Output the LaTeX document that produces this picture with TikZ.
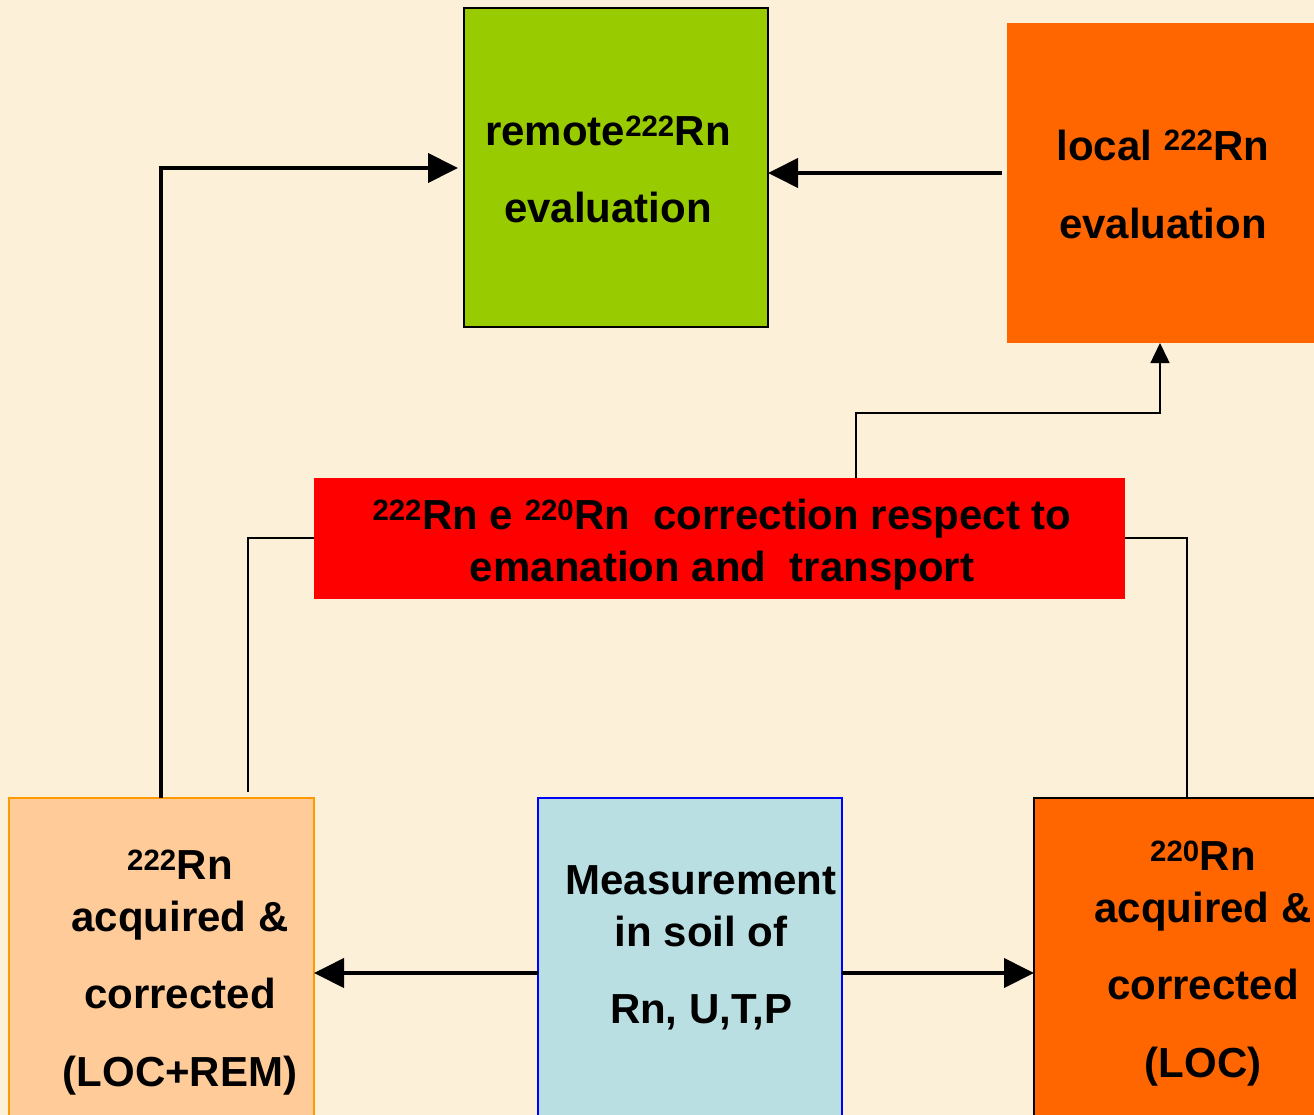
\documentclass[tikz,border=0pt]{standalone}
\usepackage{fontspec}
\setmainfont{Liberation Sans}
\usetikzlibrary{arrows.meta,calc}

\definecolor{parch}{RGB}{252,240,216}
\definecolor{leaf}{RGB}{153,204,0}
\definecolor{tangerine}{RGB}{255,102,0}
\definecolor{peach}{RGB}{255,204,153}
\definecolor{peachline}{RGB}{255,153,0}
\definecolor{iceblue}{RGB}{185,223,226}

\newcommand{\sups}[1]{\textsuperscript{#1}}

\tikzset{
  box/.style={anchor=north west, inner sep=0pt, outer sep=0pt, line width=1.5pt},
  lbl/.style={font=\bfseries\fontsize{42}{52}\selectfont, align=center, inner sep=0pt},
  heavy/.style={line width=4pt, -{Triangle[length=30pt, width=29pt]}},
  light/.style={line width=1.5pt, -{Triangle[length=20pt, width=19pt]}},
  lightline/.style={line width=1.5pt},
}

\begin{document}
\begin{tikzpicture}[x=1pt, y=-1pt]
  % parchment background
  \fill[parch] (0,0) rectangle (1314,1115);
  \useasboundingbox (0,0) rectangle (1314,1115);

  % boxes
  \node[box, fill=leaf, draw=black, minimum width=304pt, minimum height=319pt] (remote) at (464,8) {};
  \node[box, fill=tangerine, minimum width=320pt, minimum height=320pt] (local) at (1007,23) {};
  \node[box, fill=red, minimum width=811pt, minimum height=121pt] (corr) at (314,478) {};
  \node[box, fill=peach, draw=peachline, minimum width=305pt, minimum height=340pt] (acq) at (9,798) {};
  \node[box, fill=iceblue, draw=blue, line width=2pt, minimum width=304pt, minimum height=340pt] (meas) at (538,798) {};
  \node[box, fill=tangerine, draw=black, minimum width=300pt, minimum height=340pt] (loc) at (1034,798) {};

  % texts
  \node[lbl, font=\bfseries\fontsize{42}{77}\selectfont] (remotetxt) at (608,169) {remote\sups{222}Rn\\evaluation};
  \node[lbl, font=\bfseries\fontsize{42}{78}\selectfont] (localtxt) at (1163,184) {local \sups{222}Rn\\evaluation};
  \node[lbl] (corrtxt) at (722,545) {\sups{222}Rn e \sups{220}Rn\ \ correction respect to\\emanation and\ \ transport};
  \node[lbl] (acqtxt) at (180,973) {\sups{222}Rn\\acquired \&\\[25pt]corrected\\[26pt](LOC+REM)};
  \node[lbl] (meastxt) at (701,948) {Measurement\\in soil of\\[25pt]Rn, U,T,P};
  \node[lbl] (loctxt) at (1203,964) {\sups{220}Rn\\acquired \&\\[25pt]corrected\\[26pt](LOC)};

  % waypoints
  \coordinate (upL) at (161,168);
  \coordinate (upR) at (856,413);
  \coordinate (upRR) at (1160,413);
  \coordinate (sideL) at (248,538);
  \coordinate (sideR) at (1187,538);
  \coordinate (rowT) at (0,173);
  \coordinate (rowB) at (0,973);

  % connectors
  \draw[heavy, shorten >=6pt] (acq.north -| upL) |- (remote.west |- upL);
  \draw[heavy, shorten <=5pt] (local.west |- rowT) -- (remote.east |- rowT);
  \draw[light] (corr.north -| upR) -- (upR) -| (local.south -| upRR);
  \draw[lightline, shorten >=6pt] (corr.west |- sideL) -| (acq.north -| sideL);
  \draw[lightline] (corr.east |- sideR) -| (loc.north -| sideR);
  \draw[heavy] (meas.west |- rowB) -- (acq.east |- rowB);
  \draw[heavy] (meas.east |- rowB) -- (loc.west |- rowB);
\end{tikzpicture}
\end{document}
